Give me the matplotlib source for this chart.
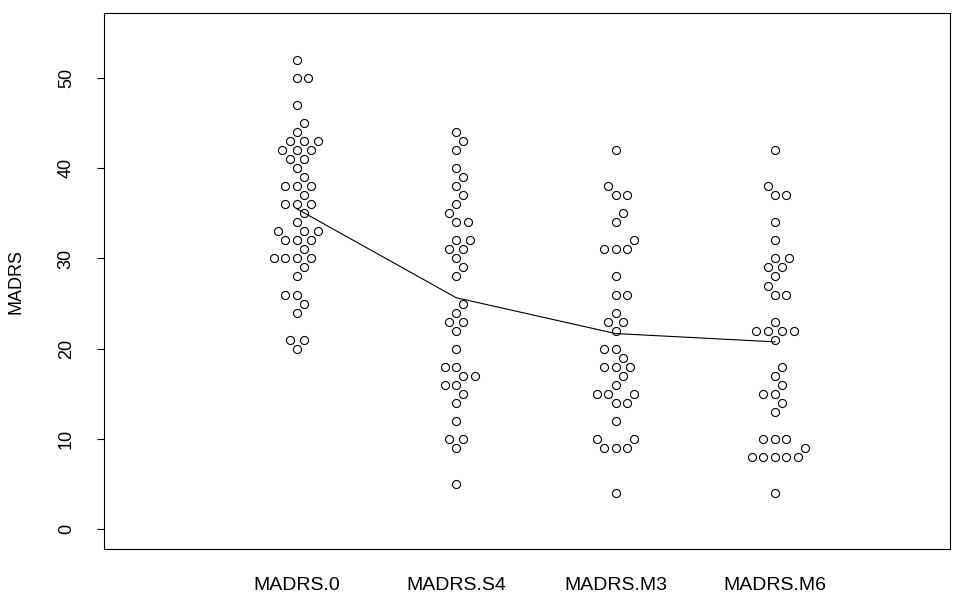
import numpy as np
import matplotlib
matplotlib.use("Agg")
import matplotlib.pyplot as plt

plt.rcParams['font.family'] = ['Liberation Sans', 'DejaVu Sans']

categories = ["MADRS.0", "MADRS.S4", "MADRS.M3", "MADRS.M6"]

madrs_0 = [52, 50, 50, 47, 45, 44, 43, 43, 43, 42, 42, 42, 41, 41, 40, 39,
           38, 38, 38, 37, 36, 36, 36, 35, 34, 33, 33, 33, 32, 32, 32, 31,
           30, 30, 30, 30, 29, 28, 26, 26, 25, 24, 21, 21, 20]
madrs_s4 = [44, 43, 42, 40, 39, 38, 37, 36, 35, 34, 34, 32, 32, 31, 31, 30,
            29, 28, 25, 24, 23, 23, 22, 20, 18, 18, 17, 17, 16, 16, 15, 14,
            12, 10, 10, 9, 5]
madrs_m3 = [42, 38, 37, 37, 35, 34, 32, 31, 31, 31, 28, 26, 26, 24, 23, 23,
            22, 20, 20, 19, 18, 18, 18, 17, 16, 15, 15, 15, 14, 14, 12, 10,
            10, 9, 9, 9, 4]
madrs_m6 = [42, 38, 37, 37, 34, 32, 30, 30, 29, 29, 28, 27, 26, 26, 23, 22,
            22, 22, 22, 21, 18, 17, 16, 15, 15, 14, 13, 10, 10, 10, 9, 8, 8,
            8, 8, 8, 4]

groups = [madrs_0, madrs_s4, madrs_m3, madrs_m6]
yticks = [0, 10, 20, 30, 40, 50]

W, H = 954, 596
fig = plt.figure(figsize=(W / 100, H / 100), dpi=100)
ax = fig.add_axes([104 / W, 47 / H, 846 / W, 536 / H])
ax.set_xlim(-0.209, 5.098)
ax.set_ylim(-2.2, 57.2)


def swarm(vals_px, s):
    order = np.argsort(vals_px, kind='stable')
    xs = vals_px[order]
    offs = np.zeros(len(xs))
    for ii in range(1, len(xs)):
        xi = xs[ii]
        pre_x = xs[:ii]
        pre_y = offs[:ii]
        wh = (xi - pre_x) < s
        if wh.any():
            px_ = pre_x[wh]
            py_ = pre_y[wh]
            o = np.argsort(np.abs(py_), kind='stable')
            px_, py_ = px_[o], py_[o]
            off = np.sqrt(np.maximum(s ** 2 - (xi - px_) ** 2, 0))
            cand = np.concatenate([[0.0], py_ + off, py_ - off])
            bad = np.array([np.any((xi - px_) ** 2 + (c - py_) ** 2 < 0.999 * s ** 2)
                            for c in cand])
            cand = np.where(bad, np.inf, cand)
            offs[ii] = cand[np.argmin(np.abs(cand))]
    res = np.empty_like(offs)
    res[order] = offs
    return res


fig.canvas.draw()
t = ax.transData
py_per_unit = t.transform((0, 1))[1] - t.transform((0, 0))[1]
px_per_group = t.transform((1, 0))[0] - t.transform((0, 0))[0]
s_px = 11.5

means = []
for i, g in enumerate(groups):
    v = np.array(g, dtype=float)
    offs = swarm(v * py_per_unit, s_px) / px_per_group
    ax.plot(i + 1 + offs, v, linestyle='none', marker='o', markersize=5.8,
            markerfacecolor='none', markeredgecolor='black', markeredgewidth=0.8)
    means.append(v.mean())

ax.plot(np.arange(1, len(groups) + 1), means, color='black', linewidth=0.8)

ax.set_yticks(yticks)
ax.set_yticklabels([str(y) for y in yticks], rotation=90, va='center')
ax.set_xticks(np.arange(1, len(groups) + 1))
ax.set_xticklabels(categories)
ax.tick_params(axis='x', length=0, pad=20, labelsize=14)
ax.tick_params(axis='y', length=5, width=0.8, pad=16, labelsize=13)
ax.set_ylabel("MADRS", fontsize=13, labelpad=24)
for sp in ax.spines.values():
    sp.set_linewidth(0.8)

fig.savefig("out.png", dpi=100)
